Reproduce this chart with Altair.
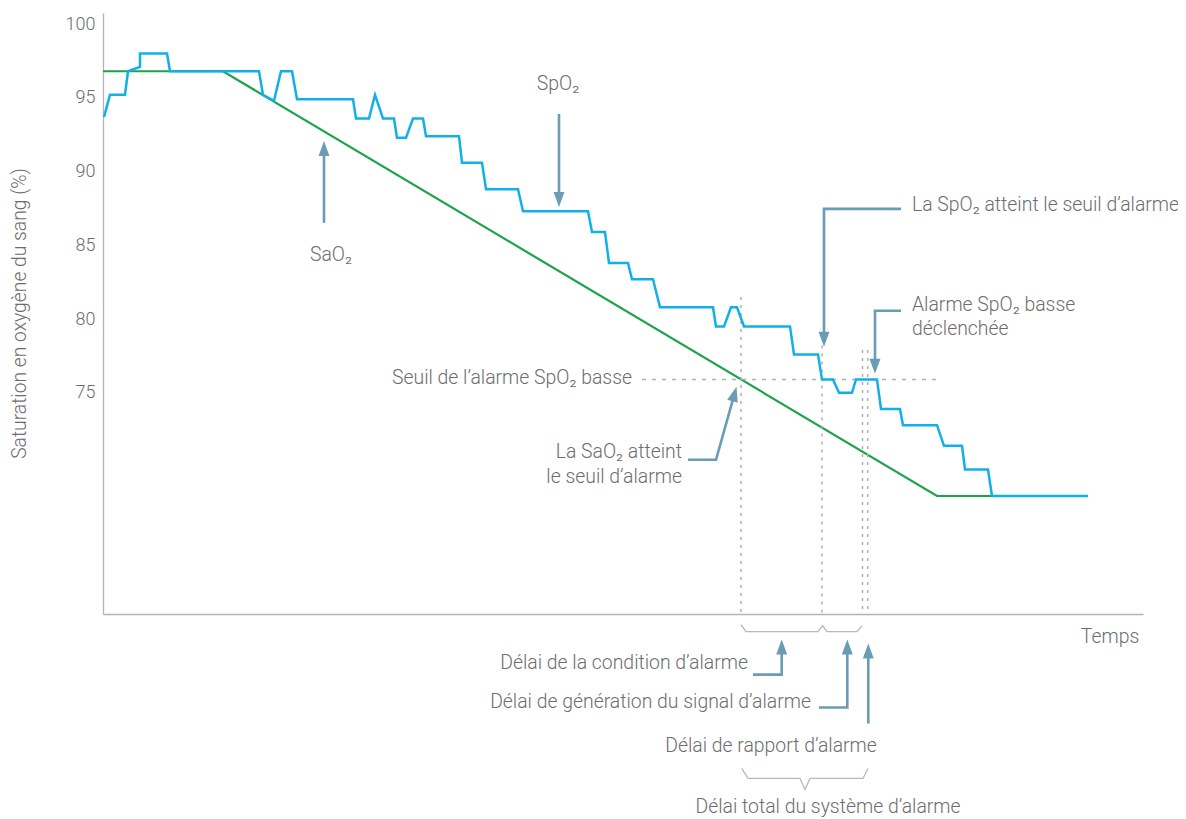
import altair as alt
import pandas as pd

FONT = "Roboto, 'DejaVu Sans', sans-serif"
GREY_TXT = "#6d6d6d"
ARROW = "#6a9cb5"
BLUE = "#12b0e8"
GREEN = "#1aa34a"
DOT = "#b0b0b0"

# ---- SpO2 trace (time units, %) ----
spo2_t = [1, 7, 22, 25, 37, 37, 64, 67, 156, 160, 171, 178, 189, 194, 250, 253, 266, 272, 280, 291,
          294, 303, 310, 320, 323, 356, 359, 379, 383, 415, 420, 485, 489, 502, 506, 525, 529, 550, 557, 610,
          613, 621, 628, 634, 641, 687, 691, 715, 719, 730, 736, 749, 753, 774, 778, 797, 800, 834, 841, 859,
          862, 885, 889, 985]
spo2_v = [93.7, 95.2, 95.2, 96.8, 97.1, 98.0, 98.0, 96.8, 96.8, 95.2, 94.8, 96.8, 96.8, 94.9, 94.9, 93.6, 93.6, 95.2, 93.6, 93.6,
          92.3, 92.3, 93.6, 93.6, 92.4, 92.4, 90.6, 90.6, 88.8, 88.8, 87.3, 87.3, 85.9, 85.9, 83.8, 83.8, 82.7, 82.7, 80.8, 80.8,
          79.5, 79.5, 80.8, 80.8, 79.5, 79.5, 77.6, 77.6, 75.9, 75.9, 75.0, 75.0, 75.9, 75.9, 73.9, 73.9, 72.8, 72.8, 71.4, 71.4,
          69.8, 69.8, 68.0, 68.0]

# ---- SaO2 trace ----
sao2_t = [0, 120, 834, 985]
sao2_v = [96.8, 96.8, 68.0, 68.0]

# ---- alarm threshold ----
threshold = 75.9
thr_t = [539, 839]

# ---- vertical event markers ----
vline_t = [638, 719, 759.5, 764.7]
vline_top = [81.5, 78.2, 77.9, 77.9]

# ---- braces under axis ----
brace_id = ["s"] * 7 + ["b"] * 7
brace_t = [638, 643, 715, 719.5, 724, 754, 759, 638.7, 645, 697, 702, 707, 760, 765]
brace_v = [59.28, 58.81, 58.81, 59.21, 58.81, 58.81, 59.21, 49.53, 48.85, 48.85, 48.10, 48.85, 48.85, 49.53]

# ---- annotation arrows (shafts) ----
arrow_id = ["a1", "a1", "a2", "a2", "a3", "a3", "a3", "a4", "a4", "a4", "a5", "a5", "a5",
            "a6", "a6", "a6", "a7", "a7", "a7", "a8", "a8"]
arrow_t = [221, 221, 456, 456, 798, 721, 721, 798, 772, 772, 585, 613, 630.8,
           650, 678.7, 678.7, 716, 744.3, 744.3, 765.3, 765.3]
arrow_v = [86.52, 91.4, 93.9, 88.28, 87.47, 87.47, 78.8, 80.56, 80.56, 76.97, 70.46, 70.46, 74.76,
           55.89, 55.89, 57.59, 53.66, 53.66, 57.59, 52.57, 57.32]

# ---- arrow heads (tips) ----
head_t = [221, 456, 721, 772, 633.5, 678.7, 744.3, 765.3]
head_v = [92.07, 87.6, 78.12, 76.29, 75.41, 58.27, 58.27, 58.0]
head_ang = [0, 180, 180, 180, 15.7, 0, 0, 0]

# ---- texts ----
txt_label = ["SpO₂", "SaO₂", "Temps",
             "Délai de rapport d’alarme", "Délai total du système d’alarme",
             "La SpO₂ atteint le seuil d’alarme", "Alarme SpO₂ basse", "déclenchée",
             "Seuil de l’alarme SpO₂ basse", "La SaO₂ atteint", "le seuil d’alarme",
             "Délai de la condition d’alarme", "Délai de génération du signal d’alarme"]
txt_t = [455, 228, 1007, 668, 725, 809, 809, 809, 529, 579, 579, 645, 708]
txt_v = [95.93, 84.35, 58.47, 51.02, 46.88, 87.74, 80.96, 79.34, 76.0, 71.0, 69.31, 56.71, 54.0]
txt_align = ["center", "center", "center", "center", "center",
             "left", "left", "left", "right", "right", "right", "right", "right"]

y_ticks = [75, 80, 85, 90, 95, 100]

# ---------------------------------------------------------------
spo2 = pd.DataFrame({"t": spo2_t, "v": spo2_v, "i": range(len(spo2_t))})
sao2 = pd.DataFrame({"t": sao2_t, "v": sao2_v, "i": range(len(sao2_t))})
thr = pd.DataFrame({"t": [thr_t[0]], "t2": [thr_t[1]], "v": [threshold]})
vl = pd.DataFrame({"t": vline_t, "top": vline_top, "bot": [60] * len(vline_t)})
br = pd.DataFrame({"id": brace_id, "t": brace_t, "v": brace_v, "i": range(len(brace_t))})
ar = pd.DataFrame({"id": arrow_id, "t": arrow_t, "v": arrow_v, "i": range(len(arrow_t))})
hd = pd.DataFrame({"t": head_t, "v": head_v, "ang": head_ang})
tx = pd.DataFrame({"label": txt_label, "t": txt_t, "v": txt_v, "align": txt_align})

xs = alt.Scale(domain=[0, 1040], nice=False, zero=False)
ys = alt.Scale(domain=[60, 100.75], nice=False, zero=False)

X = alt.X("t:Q", scale=xs,
          axis=alt.Axis(labels=False, ticks=False, grid=False, title=None,
                        domainColor="#b3b3b3", domainWidth=1.3))
Y = alt.Y("v:Q", scale=ys,
          axis=alt.Axis(values=y_ticks, ticks=False, grid=False,
                        title="Saturation en oxygène du sang (%)",
                        titleFont=FONT, titleFontSize=19.3, titleFontWeight=300,
                        titleColor=GREY_TXT, titleX=-78, titleY=300, titleBaseline="alphabetic",
                        labelFont=FONT, labelFontSize=18, labelFontWeight=300,
                        labelColor=GREY_TXT, labelPadding=8,
                        domainColor="#b3b3b3", domainWidth=1.3))

base_x = alt.X("t:Q", scale=xs)
base_y = alt.Y("v:Q", scale=ys)

sao2_line = alt.Chart(sao2).mark_line(color=GREEN, strokeWidth=2.2).encode(
    x=X, y=Y, order="i:Q")
spo2_line = alt.Chart(spo2).mark_line(color=BLUE, strokeWidth=2.5).encode(
    x=base_x, y=base_y, order="i:Q")

thr_rule = alt.Chart(thr).mark_rule(color=DOT, strokeWidth=1.3, strokeDash=[4, 6]).encode(
    x=base_x, x2="t2:Q", y=base_y)
v_rules = alt.Chart(vl).mark_rule(color=DOT, strokeWidth=1.5, strokeDash=[3, 5]).encode(
    x=base_x, y=alt.Y("top:Q", scale=ys), y2="bot:Q")

braces = alt.Chart(br).mark_line(color="#b8b8b8", strokeWidth=1.3).encode(
    x=base_x, y=base_y, detail="id:N", order="i:Q")

shafts = alt.Chart(ar).mark_line(color=ARROW, strokeWidth=2.6).encode(
    x=base_x, y=base_y, detail="id:N", order="i:Q")
heads = alt.Chart(hd).mark_point(shape="M0,0L-0.73,2L0.73,2Z", size=225, filled=True,
                                 color=ARROW, opacity=1, strokeWidth=0).encode(
    x=base_x, y=base_y, angle=alt.Angle("ang:Q", scale=None))

def text_layer(al):
    return alt.Chart(tx).transform_filter(alt.datum.align == al).mark_text(
        align=al, baseline="middle", font=FONT, fontSize=19.4, fontWeight=300,
        color=GREY_TXT).encode(
        x=base_x, y=base_y, text="label:N")

chart = alt.layer(
    sao2_line, thr_rule, v_rules, braces, spo2_line, shafts, heads,
    text_layer("left"), text_layer("right"), text_layer("center")
).properties(
    width=1040, height=601,
    autosize=alt.AutoSizeParams(type="none"),
    padding={"left": 95, "top": 5, "right": 35, "bottom": 205},
    background="white"
).configure_view(stroke=None)

chart.save("out.html", embed_options={"renderer": "svg", "actions": False})
